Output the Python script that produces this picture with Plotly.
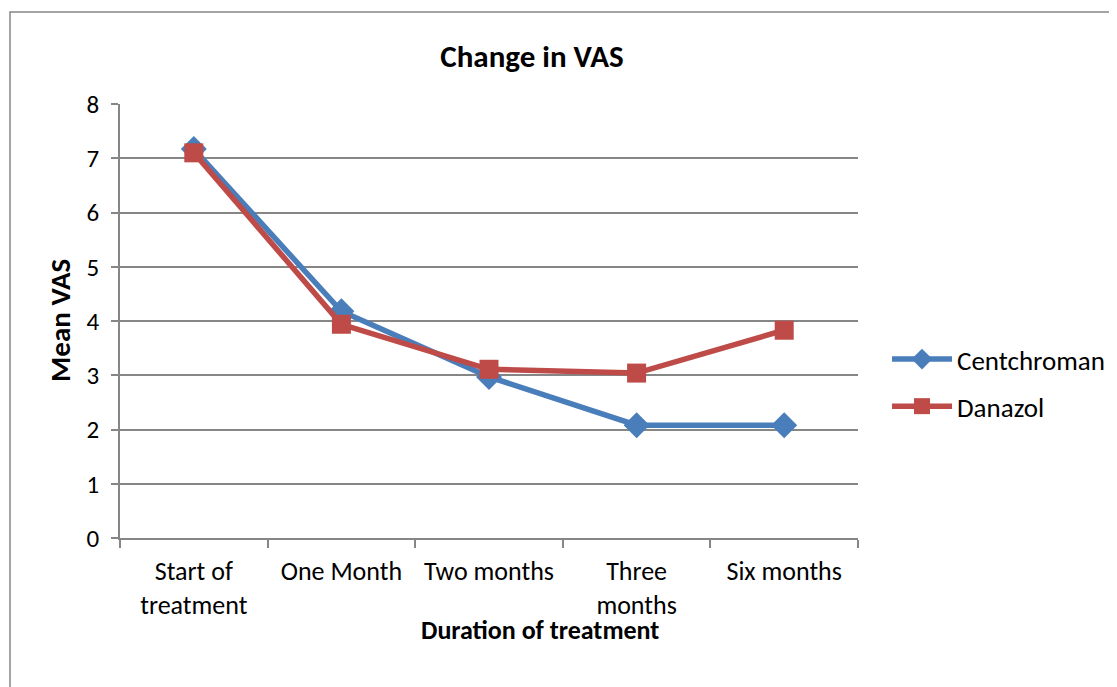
import plotly.graph_objects as go

categories = ["Start of<br>treatment", "One Month", "Two months", "Three<br>months", "Six months"]
centchroman = [7.17, 4.18, 2.97, 2.08, 2.08]
danazol = [7.10, 3.94, 3.11, 3.04, 3.83]
y_ticks = [0, 1, 2, 3, 4, 5, 6, 7, 8]

FONT = "Carlito, 'Liberation Sans Narrow', 'Arial Narrow', 'Open Sans', sans-serif"
BLUE = "#4A7EBB"
RED = "#BE4B48"
GRID = "#868686"

fig = go.Figure()
fig.add_trace(go.Scatter(
    x=categories, y=centchroman, name="Centchroman", mode="lines+markers",
    line=dict(color=BLUE, width=5.5), legendgroup="a",
    marker=dict(symbol="diamond", size=20, color=BLUE),
))
fig.add_trace(go.Scatter(
    x=categories, y=danazol, name="Danazol", mode="lines+markers",
    line=dict(color=RED, width=5.5), legendgroup="b",
    marker=dict(symbol="square", size=19, color=RED),
))

OFF = 8  # page body margin
W, H = 1117 - OFF, 687 - OFF
PL, PR, PT, PB = 120, 858, 104, 538  # plot area in page pixels
L, R, T, B = PL - OFF, W + OFF - PR, PT - OFF, H + OFF - PB
pw, ph = PR - PL, PB - PT

def px_x(p):
    return (p - PL) / pw

def px_y(p):
    return (PB - p) / ph

fig.update_layout(
    width=W, height=H,
    margin=dict(l=L, r=R, t=T, b=B, autoexpand=False),
    paper_bgcolor="white", plot_bgcolor="white",
    font=dict(family=FONT, size=26, color="black"),
    title=dict(text="<b>Change in VAS</b>", x=px_x(532), xref="paper", xanchor="center",
               y=1 - (56 - OFF) / H, yref="container", yanchor="middle",
               font=dict(size=31, family=FONT, color="black")),
    xaxis=dict(
        type="category", tickson="boundaries", ticks="outside", ticklen=8,
        tickcolor=GRID, tickwidth=1.5, showline=True, linecolor=GRID, linewidth=1.5,
        showgrid=False, tickfont=dict(size=26, family=FONT), range=[-0.5, 4.5],
        ticklabelstandoff=9, automargin=False,
    ),
    yaxis=dict(
        range=[0, 8], tickvals=y_ticks, ticks="outside", ticklen=7, tickcolor=GRID,
        tickwidth=1.5, showline=True, linecolor=GRID, linewidth=1.5,
        showgrid=True, gridcolor=GRID, gridwidth=1.5, zeroline=False,
        tickfont=dict(size=25, family=FONT), ticklabelstandoff=7, automargin=False,
    ),
    legend=dict(x=px_x(887), y=px_y(335), xanchor="left", yanchor="top",
                font=dict(size=27, family=FONT), tracegroupgap=9,
                itemwidth=60, bgcolor="rgba(0,0,0,0)"),
    showlegend=True,
    annotations=[
        dict(text="<b>Duration of treatment</b>", x=px_x(540), y=px_y(630),
             xref="paper", yref="paper", showarrow=False,
             font=dict(size=26, family=FONT), xanchor="center", yanchor="middle"),
        dict(text="<b>Mean VAS</b>", x=px_x(60), y=px_y(321),
             xref="paper", yref="paper", showarrow=False, textangle=-90,
             font=dict(size=29, family=FONT), xanchor="center", yanchor="middle"),
    ],
    shapes=[
        dict(type="rect", xref="paper", yref="paper",
             x0=px_x(10), x1=px_x(1130), y0=px_y(700), y1=px_y(12),
             line=dict(color="#868686", width=1.5), fillcolor="rgba(0,0,0,0)",
             layer="below"),
    ],
)

fig.write_html("out.html")
